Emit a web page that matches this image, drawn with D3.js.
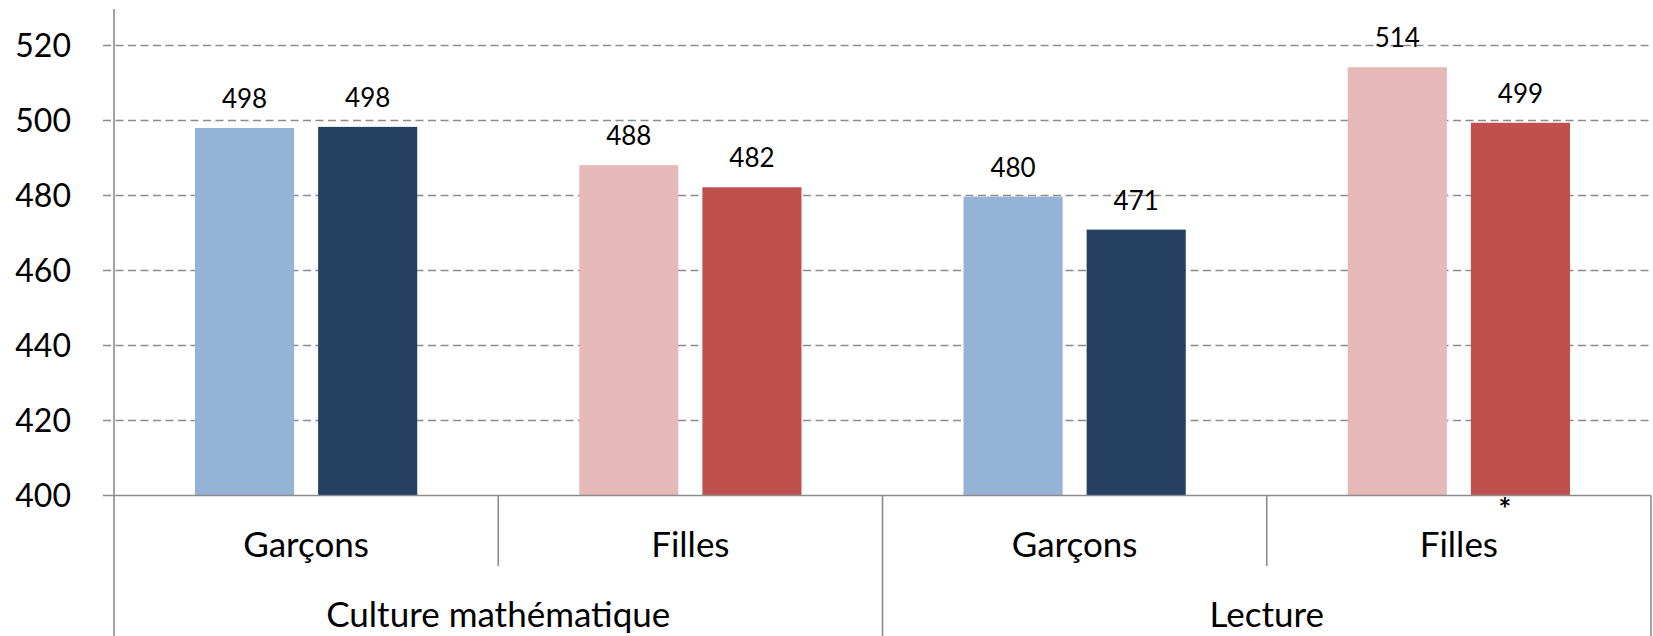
<!DOCTYPE html>
<html>
<head>
<meta charset="utf-8">
<script src="https://cdn.jsdelivr.net/npm/d3@7"></script>
<style>
	body { margin: 0; background: #fff; }
	svg { display: block; font-family: Lato, "Open Sans", sans-serif; }
	.grid line { stroke: #8c8c8c; stroke-width: 1.5; stroke-dasharray: 8,4.5; }
	.frame { stroke: #8c8c8c; stroke-width: 1.6; fill: none; }
</style>
</head>
<body>
<svg width="1653" height="636"></svg>
<script>
const subjects = ["Culture mathématique", "Lecture"];
const genders = ["Garçons", "Filles"];
const seriesNames = ["serieA", "serieB"];
// one value per category (subject x gender), in reading order
const serieA = [498.0, 488.1, 479.7, 514.2];
const serieB = [498.3, 482.2, 470.9, 499.4];
const starred = [false, false, false, true];
const yTicks = [400, 420, 440, 460, 480, 500, 520];

const colors = {
	"Garçons": ["#95b3d7", "#254061"],
	"Filles": ["#e6b9b8", "#c0504d"]
};

const svg = d3.select("svg");

const left = 114, right = 1651, base = 495.5;

// categories: subject x gender
const cats = [];
subjects.forEach(function(s, si) {
	genders.forEach(function(g, gi) {
		cats.push({ id: si * 2 + gi, subject: s, gender: g, star: starred[si * 2 + gi] });
	});
});

const x = d3.scaleBand()
	.domain(cats.map(function(d) { return d.id; }))
	.range([left, right]);

const xs = d3.scaleBand()
	.domain(seriesNames)
	.range([0, x.bandwidth()])
	.paddingInner(0.195)
	.paddingOuter(0.658);

const y = d3.scaleLinear()
	.domain([400, 520])
	.range([base, 45.5]);

// gridlines with outside tick
const grid = svg.append("g").attr("class", "grid");
grid.selectAll("line")
	.data(yTicks.filter(function(t) { return t > 400; }))
	.enter().append("line")
	.attr("x1", 103)
	.attr("x2", right + 2)
	.attr("y1", function(d) { return y(d); })
	.attr("y2", function(d) { return y(d); });

svg.append("g").selectAll("text")
	.data(yTicks)
	.enter().append("text")
	.attr("x", 71)
	.attr("y", function(d) { return y(d); })
	.attr("dy", "0.36em")
	.attr("text-anchor", "end")
	.style("font-size", "32px")
	.text(function(d) { return d; });

// bars
const rows = cats.map(function(c, i) {
	return { cat: c, vals: [serieA[i], serieB[i]] };
});

const groups = svg.append("g").selectAll("g")
	.data(rows)
	.enter().append("g")
	.attr("transform", function(d) { return "translate(" + x(d.cat.id) + ",0)"; });

groups.selectAll("rect")
	.data(function(d) {
		return d.vals.map(function(v, k) { return { v: v, k: k, gender: d.cat.gender }; });
	})
	.enter().append("rect")
	.attr("x", function(d) { return xs(seriesNames[d.k]); })
	.attr("width", xs.bandwidth())
	.attr("y", function(d) { return y(d.v); })
	.attr("height", function(d) { return base - y(d.v); })
	.style("fill", function(d) { return colors[d.gender][d.k]; });

groups.selectAll("text.val")
	.data(function(d) {
		return d.vals.map(function(v, k) { return { v: v, k: k }; });
	})
	.enter().append("text")
	.attr("class", "val")
	.attr("x", function(d) { return xs(seriesNames[d.k]) + xs.bandwidth() / 2; })
	.attr("y", function(d) { return y(d.v) - 20; })
	.attr("text-anchor", "middle")
	.style("font-size", "26px")
	.text(function(d) { return Math.round(d.v); });

// axes lines
svg.append("line").attr("class", "frame")
	.attr("x1", left).attr("x2", left).attr("y1", 9).attr("y2", 636);
svg.append("line").attr("class", "frame")
	.attr("x1", 103).attr("x2", right).attr("y1", base).attr("y2", base);

// category dividers
cats.forEach(function(c, i) {
	if (i === 0) return;
	const xx = x(c.id);
	const full = c.gender === genders[0];
	svg.append("line").attr("class", "frame")
		.attr("x1", xx).attr("x2", xx)
		.attr("y1", base).attr("y2", full ? 636 : 566);
});
svg.append("line").attr("class", "frame")
	.attr("x1", right).attr("x2", right).attr("y1", base).attr("y2", 636);

// gender labels
svg.append("g").selectAll("text")
	.data(cats)
	.enter().append("text")
	.attr("x", function(d) { return x(d.id) + x.bandwidth() / 2; })
	.attr("y", 556.5)
	.attr("text-anchor", "middle")
	.style("font-size", "35px")
	.text(function(d) { return d.gender; });

// significance mark, raised just past the end of the label
svg.append("g").selectAll("text")
	.data(cats.filter(function(d) { return d.star; }))
	.enter().append("text")
	.attr("x", function(d) { return x(d.id) + x.bandwidth() / 2 + 46; })
	.attr("y", 520)
	.attr("text-anchor", "middle")
	.style("font-size", "30px")
	.style("font-weight", "bold")
	.text("*");

// subject labels
svg.append("g").selectAll("text")
	.data(subjects)
	.enter().append("text")
	.attr("x", function(d, i) { return x(i * 2) + x.bandwidth(); })
	.attr("y", 627)
	.attr("text-anchor", "middle")
	.style("font-size", "35px")
	.text(function(d) { return d; });
</script>
</body>
</html>
